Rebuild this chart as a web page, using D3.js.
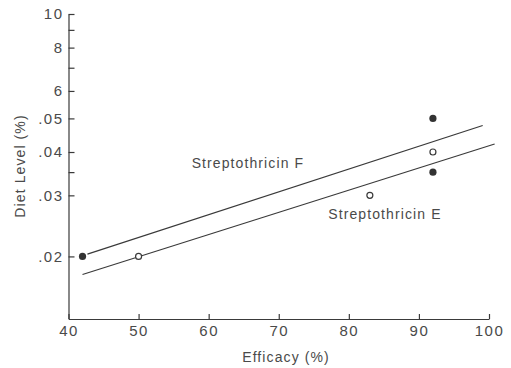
<!DOCTYPE html>
<html lang="en">
<head>
    <meta charset="utf-8">
    <title>Streptothricin diet level vs efficacy</title>
    <script src="https://d3js.org/d3.v7.min.js"></script>
    <style>
        body { margin: 0; background: #fff; }
        text { font-family: "Liberation Sans", Arial, sans-serif; fill: #4a4a4a; }
    </style>
</head>
<body>
    <svg width="511" height="368" id="chart"></svg>
    <script>
        // points
        var efficacyF = [42, 92, 92],
            levelF = [0.02, 0.05, 0.035];
        var efficacyE = [50, 83, 92],
            levelE = [0.02, 0.03, 0.04];
        // fitted lines, endpoints
        var fitFx = [42.7, 99.1], fitFy = [0.0203, 0.0477];
        var fitEx = [42, 100.8], fitEy = [0.01774, 0.0422];

        var xTicks = [40, 50, 60, 70, 80, 90, 100];
        var yTicks = [0.1, 0.09, 0.08, 0.07, 0.06, 0.05, 0.04, 0.035, 0.03, 0.02];
        var yTickLabels = ["10", "", "8", "", "6", ".05", ".04", "", ".03", ".02"];

        var svg = d3.select("#chart");
        var ink = "#3a3a3a";

        var x = d3.scaleLinear().domain([40, 100]).range([68.5, 489]);
        var y = d3.scaleLog().domain([0.0132, 0.1]).range([319, 14]);

        var xAxis = svg.append("g")
            .attr("transform", "translate(0,319)")
            .call(d3.axisBottom(x).tickValues(xTicks).tickSize(-5).tickSizeOuter(0).tickPadding(6));
        xAxis.selectAll("text")
            .attr("font-size", "15px")
            .style("letter-spacing", "1.5px")
            .attr("fill", "#4a4a4a");

        var yAxis = svg.append("g")
            .attr("transform", "translate(68.5,0)")
            .call(d3.axisLeft(y).tickValues(yTicks).tickSize(-6).tickSizeOuter(0).tickPadding(5)
                .tickFormat(function (d, i) { return yTickLabels[i]; }));
        yAxis.selectAll("text")
            .attr("font-size", "15px")
            .style("letter-spacing", "1.5px")
            .attr("fill", "#4a4a4a");

        svg.selectAll(".domain, .tick line")
            .attr("stroke", ink)
            .attr("stroke-width", 1.2);

        svg.append("text")
            .attr("x", 286)
            .attr("y", 362)
            .attr("text-anchor", "middle")
            .attr("font-size", "14px")
            .style("letter-spacing", "1.1px")
            .text("Efficacy (%)");

        svg.append("text")
            .attr("transform", "translate(25,166) rotate(-90)")
            .attr("text-anchor", "middle")
            .attr("font-size", "14px")
            .style("letter-spacing", "1.1px")
            .text("Diet Level (%)");

        var line = d3.line()
            .x(function (d) { return x(d[0]); })
            .y(function (d) { return y(d[1]); });

        svg.append("path")
            .datum(d3.zip(fitFx, fitFy))
            .attr("fill", "none")
            .attr("stroke", ink)
            .attr("stroke-width", 1.2)
            .attr("d", line);
        svg.append("path")
            .datum(d3.zip(fitEx, fitEy))
            .attr("fill", "none")
            .attr("stroke", ink)
            .attr("stroke-width", 1.2)
            .attr("d", line);

        svg.selectAll(".dotF")
            .data(d3.zip(efficacyF, levelF))
            .enter().append("circle")
            .attr("class", "dotF")
            .attr("r", 3.6)
            .attr("cx", function (d) { return x(d[0]); })
            .attr("cy", function (d) { return y(d[1]); })
            .attr("fill", "#333");

        svg.selectAll(".dotE")
            .data(d3.zip(efficacyE, levelE))
            .enter().append("circle")
            .attr("class", "dotE")
            .attr("r", 3)
            .attr("cx", function (d) { return x(d[0]); })
            .attr("cy", function (d) { return y(d[1]); })
            .attr("fill", "#fff")
            .attr("stroke", ink)
            .attr("stroke-width", 1.2);

        svg.append("text")
            .attr("x", x(65.6))
            .attr("y", y(0.0359))
            .attr("text-anchor", "middle")
            .attr("font-size", "14px")
            .style("letter-spacing", "1.1px")
            .text("Streptothricin F");

        svg.append("text")
            .attr("x", x(85.15))
            .attr("y", y(0.0257))
            .attr("text-anchor", "middle")
            .attr("font-size", "14px")
            .style("letter-spacing", "1.1px")
            .text("Streptothricin E");
    </script>
</body>
</html>
